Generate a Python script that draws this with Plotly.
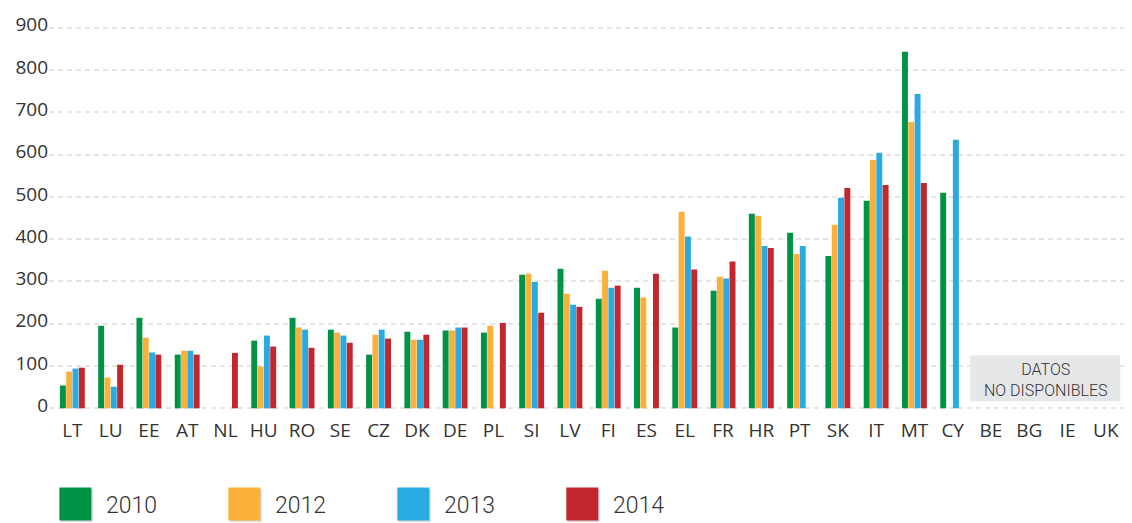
import plotly.graph_objects as go

countries = ["LT", "LU", "EE", "AT", "NL", "HU", "RO", "SE", "CZ", "DK", "DE", "PL", "SI", "LV",
             "FI", "ES", "EL", "FR", "HR", "PT", "SK", "IT", "MT", "CY", "BE", "BG", "IE", "UK"]
years = ["2010", "2012", "2013", "2014"]

v2010 = [54, 195, 214, 127, None, 160, 214, 186, 127, 181, 184, 179, 316, 330,
         259, 285, 191, 278, 460, 415, 360, 491, 843, 510, None, None, None, None]
v2012 = [87, 73, 167, 136, None, 99, 191, 179, 174, 162, 184, 195, 318, 271,
         325, 262, 465, 311, 455, 365, 434, 587, 677, None, None, None, None, None]
v2013 = [94, 51, 132, 136, None, 172, 186, 172, 186, 162, 191, None, 299, 245,
         285, None, 406, 307, 384, 384, 498, 604, 743, 635, None, None, None, None]
v2014 = [96, 103, 127, 127, 131, 146, 143, 155, 165, 174, 191, 202, 226, 240,
         290, 318, 328, 347, 379, None, 521, 528, 533, None, None, None, None, None]

y_ticks = [0, 100, 200, 300, 400, 500, 600, 700, 800, 900]
na_text = "DATOS<br>NO DISPONIBLES"

series = [v2010, v2012, v2013, v2014]
colors = ["#009245", "#FBB03B", "#29ABE2", "#C1272D"]

# page body has an 8px margin: work in screen pixels, convert to figure pixels
OFF = 8
W, H = 1132 - OFF, 523 - OFF
L, R, T, B = 48.6 - OFF, 1127.8 - OFF, 26.3 - OFF, 410.4 - OFF
TXT = "#333333"


def px(x):
    return (x - OFF - L) / (R - L)


def py(y):
    return (B - (y - OFF)) / (B - T)


fig = go.Figure()
for name, vals, col in zip(years, series, colors):
    fig.add_trace(go.Bar(x=countries, y=vals, name=name, marker_color=col,
                         marker_line_width=0, showlegend=False))

shapes = []
annotations = []

# "no data" box
shapes.append(dict(type="rect", xref="paper", yref="paper", layer="above",
                   x0=px(970), x1=px(1120), y0=py(401.7), y1=py(356),
                   fillcolor="#E6E7E8", line_width=0))
annotations.append(dict(xref="paper", yref="paper", x=px(1046), y=py(380), text=na_text,
                        showarrow=False, xanchor="center", yanchor="middle", align="center",
                        font=dict(family="Roboto", size=16, color=TXT, weight=300)))

# custom legend
leg_x = [59, 228, 397, 566]
for lx, name, col in zip(leg_x, years, colors):
    shapes.append(dict(type="rect", xref="paper", yref="paper", layer="above",
                       x0=px(lx + 1.5), x1=px(lx + 33.5), y0=py(522.5), y1=py(489.5),
                       fillcolor="rgba(0,0,0,0.15)", line_width=0))
    shapes.append(dict(type="rect", xref="paper", yref="paper", layer="above",
                       x0=px(lx), x1=px(lx + 32), y0=py(521), y1=py(488),
                       fillcolor=col, line_width=0))
    annotations.append(dict(xref="paper", yref="paper", x=px(lx + 45), y=py(506), text=name,
                            showarrow=False, xanchor="left", yanchor="middle",
                            font=dict(family="Roboto", size=23, color=TXT, weight=300)))

fig.update_layout(
    width=W, height=H,
    margin=dict(l=L, r=W - R, t=T, b=H - B, pad=0),
    paper_bgcolor="white", plot_bgcolor="white",
    barmode="group", bargap=0.34, bargroupgap=0.06,
    shapes=shapes, annotations=annotations,
    font=dict(family="Open Sans", color=TXT),
    xaxis=dict(type="category", categoryorder="array", categoryarray=countries,
               range=[-0.61, 27.58], showgrid=False, showline=False, zeroline=False,
               ticks="outside", ticklen=3, tickcolor="rgba(0,0,0,0)",
               tickfont=dict(family="Open Sans", size=19, color=TXT)),
    yaxis=dict(range=[-4, 904], tickvals=y_ticks, ticktext=[str(t) for t in y_ticks],
               showgrid=True, gridcolor="#E5E5E5", gridwidth=2, griddash="5px,4px",
               zeroline=False, showline=False, ticks="", ticklabelshift=-3,
               tickfont=dict(family="Open Sans", size=19, color=TXT)),
)

fig.write_html("out.html")
